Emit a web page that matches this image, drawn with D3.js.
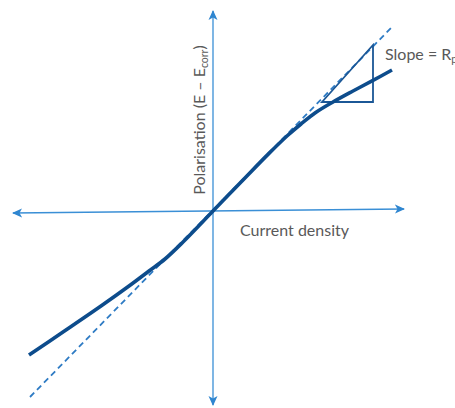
<!DOCTYPE html>
<html>
<head>
<meta charset="utf-8">
<script src="https://cdn.jsdelivr.net/npm/d3@7"></script>
<style>
  html, body { margin: 0; padding: 0; background: #ffffff; overflow: hidden; }
  svg { display: block; }
  text { font-family: Lato, "Open Sans", sans-serif; fill: #595959; }
</style>
</head>
<body>
<svg id="chart" width="455" height="408"></svg>
<script>
// Polarisation curve (current density vs E - Ecorr), arbitrary units
const curveX = [-9.2, -7.5, -5.6, -4.2, -3.2, -2.4, -1.5, 0, 1.5, 2.8, 3.7, 4.4, 5.1, 6.0, 7.0, 8.0, 8.95];
const curveY = [-7.2, -6.05, -4.75, -3.75, -3.0, -2.4, -1.55, 0, 1.55, 2.88, 3.75, 4.35, 4.9, 5.45, 6.0, 6.53, 7.05];

// Linear tangent at the origin (slope = Rp)
const tangentX = [-9.15, 8.95];
const tangentY = [-9.3, 9.2];

// Slope triangle drawn on the tangent
const triX = [5.45, 8.0, 8.0, 5.45];
const triY = [5.45, 5.45, 8.3, 5.45];

// Axis end points
const hAxisX = [-10.0, 9.55];
const hAxisY = [-0.1, 0.1];
const vAxisX = [0, 0];
const vAxisY = [-9.7, 10.0];

const svg = d3.select("#chart");
const x = d3.scaleLinear().domain([-10, 10]).range([13, 413]);
const y = d3.scaleLinear().domain([-10, 10]).range([411, 11]);

const zip = (a, b) => a.map((v, i) => [v, b[i]]);
const line = d3.line().x(d => x(d[0])).y(d => y(d[1]));

// Arrow heads
const defs = svg.append("defs");
defs.append("marker")
  .attr("id", "arrow")
  .attr("viewBox", "0 0 10 10")
  .attr("refX", 9).attr("refY", 5)
  .attr("markerWidth", 10).attr("markerHeight", 10)
  .attr("markerUnits", "userSpaceOnUse")
  .attr("orient", "auto-start-reverse")
  .append("path")
  .attr("d", "M0,0.5 L10,5 L0,9.5 L2.5,5 Z")
  .attr("fill", "#2f86d0");

const axisColor = "#3a8fd6";
svg.append("path")
  .attr("d", line(zip(hAxisX, hAxisY)))
  .attr("fill", "none").attr("stroke", axisColor).attr("stroke-width", 1.3)
  .attr("marker-start", "url(#arrow)").attr("marker-end", "url(#arrow)");
svg.append("path")
  .attr("d", line(zip(vAxisX, vAxisY)))
  .attr("fill", "none").attr("stroke", axisColor).attr("stroke-width", 1.3)
  .attr("marker-start", "url(#arrow)").attr("marker-end", "url(#arrow)");

// Tangent (dashed)
svg.append("path")
  .attr("d", line(zip(tangentX, tangentY)))
  .attr("fill", "none").attr("stroke", "#2e7bc4").attr("stroke-width", 1.8)
  .attr("stroke-dasharray", "6,4");

// Slope triangle
svg.append("path")
  .attr("d", line(zip(triX, triY)) + "Z")
  .attr("fill", "none").attr("stroke", "#1b5796").attr("stroke-width", 1.8)
  .attr("stroke-linejoin", "miter");

// Polarisation curve
svg.append("path")
  .attr("d", d3.line().x(d => x(d[0])).y(d => y(d[1])).curve(d3.curveCatmullRom.alpha(0.5))(zip(curveX, curveY)))
  .attr("fill", "none").attr("stroke", "#0d4c8c").attr("stroke-width", 3.6)
  .attr("stroke-linecap", "butt");

// Labels
svg.append("text")
  .attr("x", 240).attr("y", 236)
  .attr("font-size", 16)
  .text("Current density");

const yl = svg.append("text")
  .attr("transform", "translate(205,120) rotate(-90)")
  .attr("text-anchor", "middle")
  .attr("font-size", 16);
yl.append("tspan").text("Polarisation (E \u2013 E");
yl.append("tspan").attr("font-size", 10.5).attr("dy", 3).text("corr");
yl.append("tspan").attr("dy", -3).text(")");

const sl = svg.append("text")
  .attr("x", 385).attr("y", 60)
  .attr("font-size", 16);
sl.append("tspan").text("Slope = R");
sl.append("tspan").attr("font-size", 10.5).attr("dy", 3).text("p");
</script>
</body>
</html>
